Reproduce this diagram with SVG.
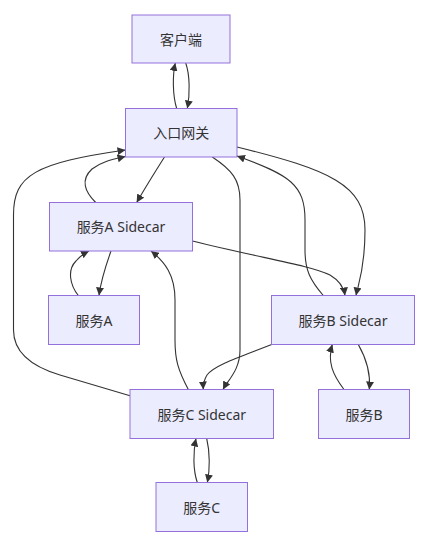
<svg xmlns="http://www.w3.org/2000/svg" width="423" height="542" viewBox="0 0 423 542">
<style>
.node rect{fill:#ECECFF;stroke:#9370DB;stroke-width:1}
.node text{font-family:"Noto Sans","Noto Sans CJK SC",sans-serif;font-size:14px;fill:#333;text-anchor:middle;dominant-baseline:central}
.edges path{fill:none;stroke:#333;stroke-width:1.1;marker-end:url(#arrow)}
</style>
<defs>
<marker id="arrow" viewBox="0 0 10 10" refX="10" refY="5" markerWidth="8" markerHeight="8" markerUnits="userSpaceOnUse" orient="auto">
<path d="M0,0 L10,5 L0,10 z" fill="#333"/>
</marker>
</defs>
<rect width="423" height="542" fill="#fff"/>
<g class="edges">
<path d="M185.7,63 C190,75 190,95 187.3,108.5"/>
<path d="M176.7,108.5 C172.5,95 172.5,75 175.3,63"/>
<path d="M164.5,157 C155,172 145,188 136.7,202.5"/>
<path d="M95.7,202.5 C85,192 80,180 92,169 C102,161 115,159 125.5,156.5"/>
<path d="M130,395.7 L60,375 C30,366 13.5,352 13.5,330 L13.5,215 C13.5,175 35,163 125.5,150"/>
<path d="M212.3,157 C232,170 240,180 240,200 L240,350 C240,370 228,380 223,389.5"/>
<path d="M323.3,295.5 C310,280 305,270 305,250 L305,220 C305,185 290,175 237,156"/>
<path d="M237,147 C330,170 365,185 365,230 C365,270 358,285 356,295.5"/>
<path d="M192.5,241 C260,258 310,265 330,275 C340,281 344,288 345,295.5"/>
<path d="M111,251 C106,265 101,280 99,295.5"/>
<path d="M78.3,295.5 C70,285 67,270 76,261 C80,256 85,253 89,251"/>
<path d="M188.3,389.5 C178,370 175,360 175,340 L175,300 C175,275 165,262 151,251"/>
<path d="M271.7,344.5 C240,357 215,365 207,375 C204,380 203,384 203.3,389.5"/>
<path d="M344,389.5 C333,375 327,362 332.3,344.5"/>
<path d="M358.3,344.5 C366,358 371,372 369.3,389.5"/>
<path d="M206.7,438.5 C210,452 210,470 207.3,482.5"/>
<path d="M197.3,482.5 C193,470 193,452 196,438.5"/>
</g>
<g id="client" class="node"><rect x="132" y="15" width="98" height="48"/><text x="181" y="39">客户端</text></g>
<g id="gateway" class="node"><rect x="125.5" y="108.5" width="111.5" height="48.5"/><text x="181.25" y="132.75">入口网关</text></g>
<g id="sidecarA" class="node"><rect x="49.5" y="202.5" width="143" height="48.5"/><text x="121" y="226.75">服务A Sidecar</text></g>
<g id="serviceA" class="node"><rect x="48.5" y="295.5" width="91" height="49"/><text x="94" y="320">服务A</text></g>
<g id="sidecarB" class="node"><rect x="271.5" y="295.5" width="143" height="49"/><text x="343" y="320">服务B Sidecar</text></g>
<g id="sidecarC" class="node"><rect x="130" y="389.5" width="143.5" height="49"/><text x="201.75" y="414">服务C Sidecar</text></g>
<g id="serviceB" class="node"><rect x="318.5" y="389.5" width="91" height="49"/><text x="364" y="414">服务B</text></g>
<g id="serviceC" class="node"><rect x="156" y="482.5" width="91.5" height="49"/><text x="201.75" y="507">服务C</text></g>
</svg>
